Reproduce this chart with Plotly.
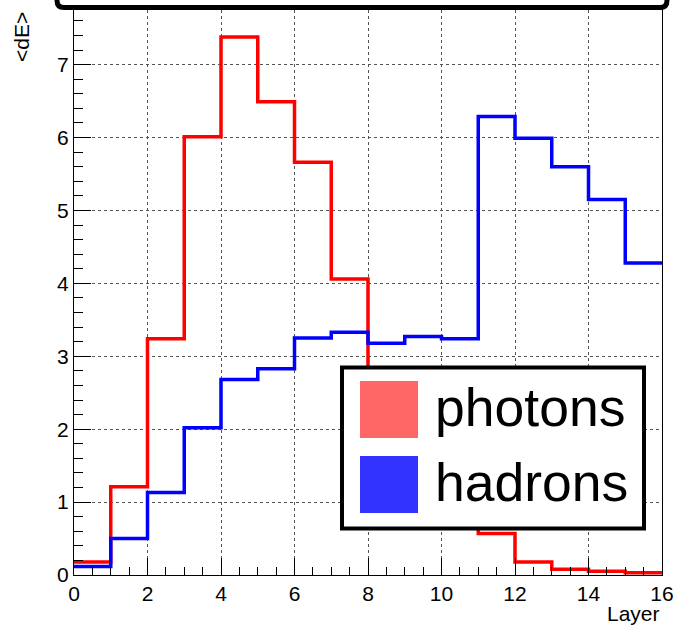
import plotly.graph_objects as go

# ---- data ----
layer_edges = list(range(0, 17))
photons = [0.18, 1.21, 3.24, 6.01, 7.38, 6.49, 5.66, 4.06, 2.75, 1.75, 1.05, 0.57, 0.18, 0.08, 0.05, 0.03]
hadrons = [0.115, 0.50, 1.13, 2.02, 2.68, 2.83, 3.25, 3.33, 3.18, 3.27, 3.24, 6.29, 5.99, 5.60, 5.15, 4.28]
series_names = ["photons", "hadrons"]
line_colors = ["#ff0000", "#0000ff"]
legend_fill = ["#ff6666", "#3333ff"]
x_title = "Layer"
y_title = "&lt;dE&gt;"

FONT = "Liberation Sans, Arial, Helvetica, sans-serif"

fig = go.Figure()
for name, vals, col in zip(series_names, [photons, hadrons], line_colors):
    fig.add_trace(go.Scatter(
        x=layer_edges, y=vals + [vals[-1]], mode="lines", line_shape="hv",
        line=dict(color=col, width=3.5), name=name, showlegend=False,
        hoverinfo="skip"))

W, H = 674, 626
L, R, T, B = 74, 12, 10, 51
pw, ph = W - L - R, H - T - B

def px(xp):
    return (xp - L) / pw

def py(yp):
    return (H - B - yp) / ph

ymax = 1.05 * max(max(photons), max(hadrons))

fig.update_layout(
    width=W, height=H,
    margin=dict(l=L, r=R, t=T, b=B, pad=0, autoexpand=False),
    paper_bgcolor="white", plot_bgcolor="white",
    font=dict(family=FONT, size=21, color="black"),
    xaxis=dict(range=[0, 16], dtick=2, tick0=0, ticks="inside", ticklen=17,
               tickcolor="black", tickwidth=1, showline=True, linecolor="black",
               linewidth=1, mirror=True, showgrid=True, gridcolor="#555",
               griddash="dot", gridwidth=1, zeroline=False, automargin=False,
               tickfont=dict(size=21, family=FONT),
               minor=dict(dtick=0.5, ticks="inside", ticklen=8, tickcolor="black",
                          showgrid=False)),
    yaxis=dict(range=[0, ymax], dtick=1, tick0=0, ticks="inside", ticklen=17,
               tickcolor="black", tickwidth=1, showline=True, linecolor="black",
               linewidth=1, mirror=True, showgrid=True, gridcolor="#555",
               griddash="dot", gridwidth=1, zeroline=False, automargin=False,
               tickfont=dict(size=21, family=FONT),
               minor=dict(dtick=0.2, ticks="inside", ticklen=9, tickcolor="black",
                          showgrid=False)),
)

shapes = []
# title box (cut off at top)
x0, x1, yb, yt = px(57), px(667), py(7.5), py(-20)
rx, ry = 7 / pw, 7 / ph
shapes.append(dict(type="path", xref="paper", yref="paper",
                   path=f"M {x0},{yt} L {x0},{yb+ry} Q {x0},{yb} {x0+rx},{yb} "
                        f"L {x1-rx},{yb} Q {x1},{yb} {x1},{yb+ry} L {x1},{yt}",
                   line=dict(color="black", width=5), layer="above"))
# legend box
shapes.append(dict(type="rect", xref="paper", yref="paper",
                   x0=px(342), x1=px(644), y0=py(528.5), y1=py(367.5),
                   fillcolor="white", line=dict(color="black", width=4), layer="above"))
sq_top = [381, 456]
for col, top in zip(legend_fill, sq_top):
    shapes.append(dict(type="rect", xref="paper", yref="paper",
                       x0=px(360), x1=px(418), y0=py(top + 57), y1=py(top),
                       fillcolor=col, line=dict(width=0), layer="above"))
fig.update_layout(shapes=shapes)

annotations = []
for name, top in zip(series_names, sq_top):
    annotations.append(dict(text=name, xref="paper", yref="paper", x=px(433),
                            y=py(top + 26), xanchor="left", yanchor="middle",
                            showarrow=False, font=dict(size=53.5, family=FONT, color="black")))
annotations.append(dict(text=x_title, xref="paper", yref="paper", x=px(662), y=py(613),
                        xanchor="right", yanchor="middle", showarrow=False,
                        font=dict(size=21, family=FONT)))
annotations.append(dict(text=y_title, xref="paper", yref="paper", x=px(21), y=py(10),
                        xanchor="center", yanchor="top", textangle=-90, showarrow=False,
                        font=dict(size=21, family=FONT)))
fig.update_layout(annotations=annotations)

fig.write_html("out.html")
